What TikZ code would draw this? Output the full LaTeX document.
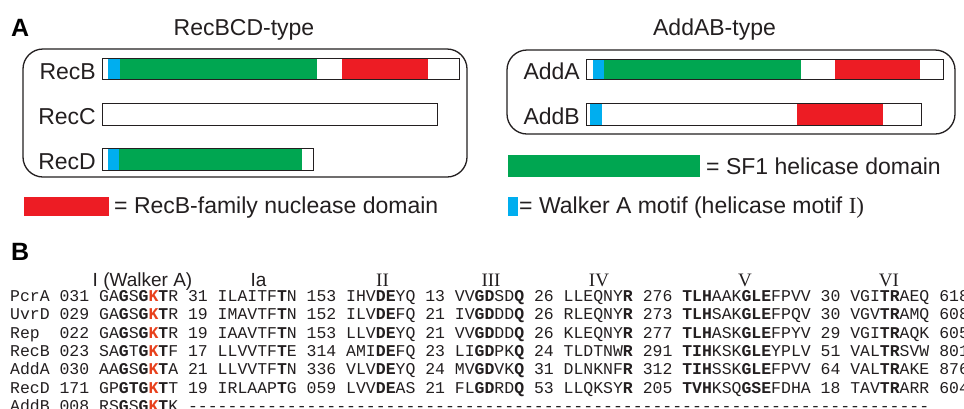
\documentclass[tikz,border=0pt]{standalone}
\usepackage{fontspec}
\setmainfont{Liberation Sans}
\newfontfamily\myserif{Liberation Serif}
\newfontfamily\mymono{Liberation Mono}
\definecolor{ink}{HTML}{231F20}
\definecolor{nred}{HTML}{ED1C24}
\definecolor{sgreen}{HTML}{00A651}
\definecolor{bblue}{HTML}{00AEEF}
\definecolor{kred}{HTML}{E8401C}
\newcommand{\bb}[1]{\textbf{#1}}
\newcommand{\kk}{\textcolor{kred}{\textbf{K}}}
\newcommand{\mydashes}{\foreach \i in {1,...,75}{-}}
\begin{document}
\begin{tikzpicture}[x=1pt,y=-1pt,
  lab/.style={font=\fontsize{23}{27}\selectfont, text=ink, inner sep=0},
  panel/.style={font=\bfseries\fontsize{25}{29}\selectfont, text=black, inner sep=0, anchor=base west},
  grp/.style={draw=ink, line width=1.3pt, rounded corners=20pt},
  bar/.style={draw=ink, line width=1pt},
  seq/.style={font=\mymono\fontsize{16.47}{18}\selectfont, text=ink, inner sep=0, anchor=base west},
  motif/.style={font=\fontsize{19}{22}\selectfont, text=ink, inner sep=0, anchor=base},
  rmotif/.style={font=\myserif\fontsize{19}{22}\selectfont, text=ink, inner sep=0, anchor=base}]
\clip (0,0) rectangle (964,408);
\fill[white] (0,0) rectangle (964,408);

% ---- Panel A ----
\node[panel] (pa) at (11,36) {A};
\node[lab, anchor=base] (t1) at (244,35.5) {RecBCD-type};
\node[lab, anchor=base] (t2) at (714.5,35.5) {AddAB-type};

\draw[grp] (23,49) rectangle (467,177);
\draw[grp] (507,50) rectangle (955,134);

% RecB
\fill[bblue] (108,58) rectangle (120,79);
\fill[sgreen] (120,58) rectangle (317,79);
\fill[nred] (342,58) rectangle (428,79);
\draw[bar] (102,58) rectangle (459,79);
\node[lab, anchor=base east] (recb) at (96,79) {RecB};
% RecC
\draw[bar] (102,103) rectangle (437,125);
\node[lab, anchor=base east] (recc) at (96,124.5) {RecC};
% RecD
\fill[bblue] (108,148) rectangle (119,170);
\fill[sgreen] (119,148) rectangle (302,170);
\draw[bar] (102,148) rectangle (313,170);
\node[lab, anchor=base east] (recd) at (96,169.5) {RecD};

% AddA
\fill[bblue] (593,59) rectangle (604,79);
\fill[sgreen] (604,59) rectangle (801,79);
\fill[nred] (835,59) rectangle (920,79);
\draw[bar] (586,59) rectangle (943,79);
\node[lab, anchor=base east] (adda) at (580,79) {AddA};
% AddB
\fill[bblue] (590,103) rectangle (602,125);
\fill[nred] (797,103) rectangle (883,125);
\draw[bar] (586,103) rectangle (921,125);
\node[lab, anchor=base east] (addb) at (580,124.5) {AddB};

% legends
\fill[nred] (24,197) rectangle (109,216);
\node[lab, anchor=base west] (lred) at (114,213.5) {= RecB-family nuclease domain};
\fill[sgreen] (508,155) rectangle (700,177);
\node[lab, anchor=base west] (lgreen) at (706,174) {= SF1 helicase domain};
\fill[bblue] (508,197) rectangle (518,216);
\node[lab, anchor=base west] (lblue) at (519,213.5) {= Walker A motif (helicase motif {\myserif I)}};

% ---- Panel B ----
\node[panel] (pb) at (11,260) {B};
\node[motif] (m1) at (142.5,286) {I (Walker A)};
\node[motif] (m1a) at (258.5,286) {Ia};
\node[rmotif] (m2) at (382.5,286) {II};
\node[rmotif] (m3) at (491,286) {III};
\node[rmotif] (m4) at (599,286) {IV};
\node[rmotif] (m5) at (745,286) {V};
\node[rmotif] (m6) at (889,286) {VI};

\node[seq] (r1) at (10,301.5) {PcrA 031 GA\bb{G}S\bb{G}\kk\bb{T}R 31 ILAITF\bb{T}N 153 IHV\bb{DE}YQ 13 VV\bb{GD}SD\bb{Q} 26 LLEQNY\bb{R} 276 \bb{TLH}AAK\bb{GLE}FPVV 30 VGI\bb{TR}AEQ 618};
\node[seq] (r2) at (10,319.8) {UvrD 029 GA\bb{G}S\bb{G}\kk\bb{T}R 19 IMAVTF\bb{T}N 152 ILV\bb{DE}FQ 21 IV\bb{GD}DD\bb{Q} 26 RLEQNY\bb{R} 273 \bb{TLH}SAK\bb{GLE}FPQV 30 VGV\bb{TR}AMQ 608};
\node[seq] (r3) at (10,338.2) {Rep\ \ 022 GA\bb{G}S\bb{G}\kk\bb{T}R 19 IAAVTF\bb{T}N 153 LLV\bb{DE}YQ 21 VV\bb{GD}DD\bb{Q} 26 KLEQNY\bb{R} 277 \bb{TLH}ASK\bb{GLE}FPYV 29 VGI\bb{TR}AQK 605};
\node[seq] (r4) at (10,356.5) {RecB 023 SA\bb{G}T\bb{G}\kk\bb{T}F 17 LLVVTF\bb{T}E 314 AMI\bb{DE}FQ 23 LI\bb{GD}PK\bb{Q} 24 TLDTNW\bb{R} 291 \bb{TIH}KSK\bb{GLE}YPLV 51 VAL\bb{TR}SVW 801};
\node[seq] (r5) at (10,374.8) {AddA 030 AA\bb{G}S\bb{G}\kk\bb{T}A 21 LLVVTF\bb{T}N 336 VLV\bb{DE}YQ 24 MV\bb{GD}VK\bb{Q} 31 DLNKNF\bb{R} 312 \bb{TIH}SSK\bb{GLE}FPVV 64 VAL\bb{TR}AKE 876};
\node[seq] (r6) at (10,393.2) {RecD 171 GP\bb{GTG}\kk\bb{T}T 19 IRLAAP\bb{T}G 059 LVV\bb{DE}AS 21 FL\bb{GD}RD\bb{Q} 53 LLQKSY\bb{R} 205 \bb{TVH}KSQ\bb{GSE}FDHA 18 TAV\bb{TR}ARR 604};
\node[seq] (r7) at (10,411.5) {AddB 008 RS\bb{G}S\bb{G}\kk\bb{T}K \mydashes};
\end{tikzpicture}
\end{document}
